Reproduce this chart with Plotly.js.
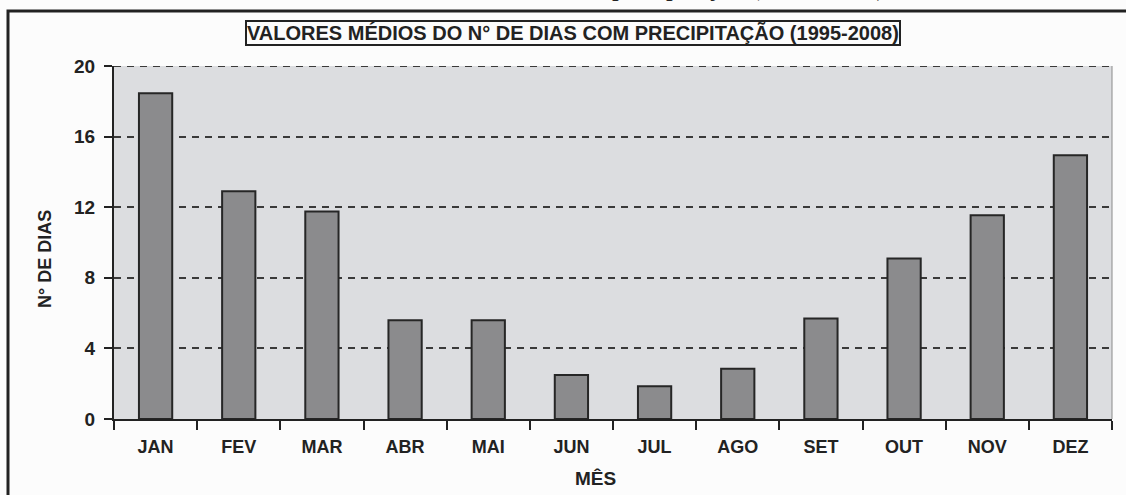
<!DOCTYPE html>
<html>
<head>
<meta charset="utf-8">
<script src="https://cdn.plot.ly/plotly-3.0.1.min.js"></script>
<style>
html,body{margin:0;padding:0;background:#fcfcfc;}
#chart{width:1126px;height:495px;}
</style>
</head>
<body>
<div id="chart"></div>
<script>
const months = ["JAN","FEV","MAR","ABR","MAI","JUN","JUL","AGO","SET","OUT","NOV","DEZ"];
const rainDays = [18.45, 12.9, 11.75, 5.6, 5.6, 2.5, 1.85, 2.85, 5.7, 9.1, 11.55, 14.95];
const yTicks = [0, 4, 8, 12, 16, 20];
const chartTitle = "VALORES MÉDIOS DO N° DE DIAS COM PRECIPITAÇÃO (1995-2008)";
const captionText = "Valores médios do n° de dias com precipitação (1995-2008)";
const yTitle = "N° DE DIAS";
const xTitle = "MÊS";

// plot area geometry (pixels)
const W = 1126, H = 495;
const L = 114, R = 1112, T = 66, B = 419;
const px = x => (x - L) / (R - L);
const py = y => (B - y) / (B - T);

const trace = {
  type: "bar",
  x: months,
  y: rainDays,
  marker: {color: "#8b8b8d", line: {color: "#262626", width: 2}},
  hoverinfo: "x+y"
};

const boldFont = (s) => ({size: s, family: "Liberation Sans, Arial, sans-serif", weight: "bold", color: "#222"});

const layout = {
  width: W, height: H,
  margin: {l: L, r: W - R, t: T, b: H - B, pad: 0},
  paper_bgcolor: "#fcfcfc",
  plot_bgcolor: "#dcdde0",
  bargap: 0.6,
  showlegend: false,
  font: {family: "Liberation Sans, Arial, sans-serif", color: "#222"},
  xaxis: {
    type: "category",
    showline: true, linecolor: "#222", linewidth: 2,
    ticks: "outside", ticklen: 9, tickwidth: 2, tickcolor: "#222",
    tickson: "boundaries",
    ticklabelstandoff: 10,
    showgrid: false,
    tickfont: boldFont(18),
    automargin: false
  },
  yaxis: {
    range: [0, 20],
    tickvals: yTicks,
    ticktext: yTicks.map(String),
    showline: true, linecolor: "#222", linewidth: 2,
    ticks: "outside", ticklen: 8, tickwidth: 2, tickcolor: "#222",
    ticklabelstandoff: 5,
    showgrid: true, gridcolor: "#3a3a3a", gridwidth: 2, griddash: "7px,6px",
    zeroline: false,
    tickfont: boldFont(19),
    automargin: false
  },
  shapes: [
    // outer frame
    {type: "rect", xref: "paper", yref: "paper",
     x0: px(8), x1: px(1140), y0: py(510), y1: py(11),
     line: {color: "#222", width: 3}, fillcolor: "rgba(0,0,0,0)", layer: "below"},
    // right edge of plot area
    {type: "line", xref: "paper", yref: "paper",
     x0: 1, x1: 1, y0: 0, y1: 1, line: {color: "#8a8a8a", width: 1}},
    // top gridline at 20
    {type: "line", xref: "paper", yref: "y",
     x0: 0, x1: 1, y0: 20, y1: 20, line: {color: "#3a3a3a", width: 2, dash: "7px,6px"}}
  ],
  annotations: [
    {text: chartTitle, xref: "paper", yref: "paper", x: px(573), y: py(33),
     xanchor: "center", yanchor: "middle", showarrow: false,
     font: boldFont(20),
     bordercolor: "#222", borderwidth: 2, borderpad: 0, bgcolor: "#fcfcfc"},
    {text: captionText, xref: "paper", yref: "paper", x: px(562), y: py(2.5),
     xanchor: "center", yanchor: "bottom", showarrow: false, borderpad: 0,
     font: {family: "Liberation Serif, Times New Roman, serif", size: 27, color: "#222"}},
    {text: yTitle, xref: "paper", yref: "paper", x: px(45), y: py(259),
     xanchor: "center", yanchor: "middle", showarrow: false, textangle: -90,
     font: boldFont(18)},
    {text: xTitle, xref: "paper", yref: "paper", x: px(595), y: py(478),
     xanchor: "center", yanchor: "middle", showarrow: false,
     font: boldFont(19)}
  ]
};

Plotly.newPlot("chart", [trace], layout, {staticPlot: true, displayModeBar: false});
</script>
</body>
</html>
